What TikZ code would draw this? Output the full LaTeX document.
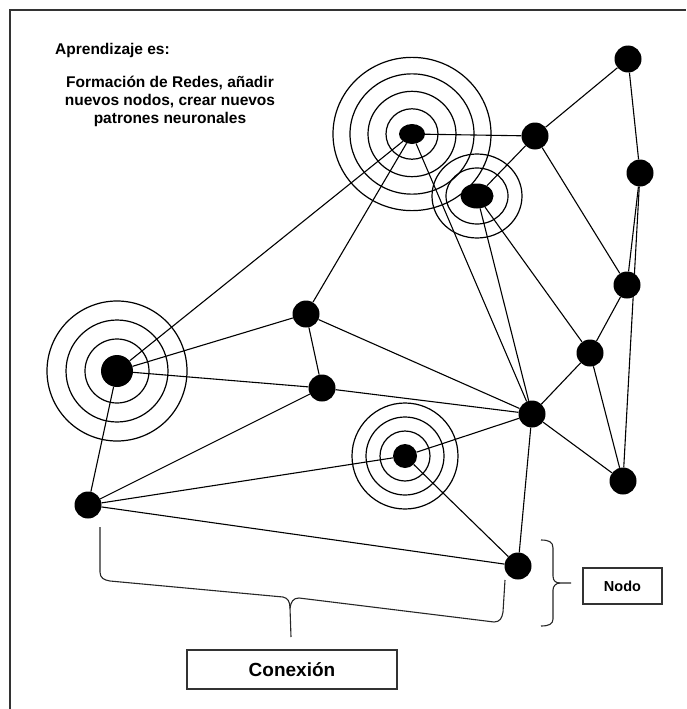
\documentclass[tikz,border=0pt]{standalone}
\usepackage{fontspec}
\setmainfont{Liberation Sans}
\usetikzlibrary{shapes.geometric}
\begin{document}
\begin{tikzpicture}[x=1pt,y=-1pt,
  neuron/.style={circle,fill=black,inner sep=0pt,minimum size=27pt},
  oval/.style={ellipse,fill=black,inner sep=0pt},
  link/.style={line width=1.1pt,black},
  ring/.style={line width=1.2pt,black},
  frame/.style={line width=1.6pt,black!80},
  tag/.style={draw=black!80,line width=1.2pt,inner sep=0pt,font=\bfseries},
  brace/.style={line width=1.1pt,black!85,line join=round},
  note/.style={font=\bfseries\fontsize{15.5}{18}\selectfont,inner sep=0pt}]
\useasboundingbox (0,0) rectangle (686,709);

% outer frame (top and left edges)
\draw[frame] (9,10) -- (686,10);
\draw[frame] (10,10) -- (10,709);

% heading
\node[note,anchor=base west] (head) at (55,55) {Aprendizaje es:};
\node[note,anchor=base] (l1) at (170,87) {Formación de Redes, añadir};
\node[note,anchor=base] (l2) at (170,105) {nuevos nodos, crear nuevos};
\node[note,anchor=base] (l3) at (170,123) {patrones neuronales};

% neurons
\node[neuron] (A) at (628,59) {};
\node[neuron] (B) at (535,136) {};
\node[neuron] (C) at (640,173) {};
\node[oval,minimum width=26pt,minimum height=20pt] (D) at (412,134) {};
\node[oval,minimum width=33pt,minimum height=25pt] (E) at (477,196) {};
\node[neuron] (F) at (627,285) {};
\node[neuron] (G) at (306,314) {};
\node[neuron] (H) at (590,353) {};
\node[neuron,minimum size=32pt] (I) at (117,371) {};
\node[neuron] (J) at (322,388) {};
\node[neuron] (K) at (532,414) {};
\node[neuron,minimum size=24pt] (L) at (405,456) {};
\node[neuron] (M) at (623,481) {};
\node[neuron] (N) at (88,505) {};
\node[neuron] (O) at (518,566) {};

% concentric rings
\foreach \r in {26,44,62,79}
  \draw[ring] (D) ellipse[x radius=\r, y radius=0.97*\r];
\foreach \r/\s in {31/28,45/42}
  \draw[ring] (E) ellipse[x radius=\r, y radius=\s];
\foreach \r in {32,51,70}
  \draw[ring] (I) circle[radius=\r];
\foreach \r in {25,39,53}
  \draw[ring] (L) circle[radius=\r];

% connections
\foreach \u/\v in {A/B,A/C,C/F,C/M,B/D,B/E,B/F,D/I,D/G,D/K,E/K,E/H,
                   F/H,H/K,H/M,K/M,K/O,K/G,K/J,K/L,G/I,G/J,I/J,I/N,
                   N/J,N/L,N/O,L/O}
  \draw[link] (\u) -- (\v);

% labels
\node[tag,minimum width=79pt,minimum height=36pt,font=\bfseries\fontsize{14.5}{16}\selectfont] (nodo) at (622.5,586) {Nodo};
\node[tag,minimum width=210pt,minimum height=39pt,font=\bfseries\fontsize{19}{22}\selectfont] (conexion) at (292,669.5) {Conexión};

% brace marking a node
\draw[brace] (541,540) .. controls (549,540) and (553,542) .. (553,548) -- (553,576)
  .. controls (553,581) and (556,583) .. (560,583) -- (571,583);
\draw[brace] (560,583) .. controls (556,583) and (553,586) .. (553,590) -- (553,619)
  .. controls (553,624) and (549,626) .. (541,626);

% brace marking a connection
\draw[brace] (100,527) -- (100,572) .. controls (100,578) and (104,580) .. (110,581)
  -- (283,597) .. controls (288,598) and (290,602) .. (290,608) -- (291,637);
\draw[brace] (290,608) .. controls (291,602) and (293,598) .. (299,598)
  -- (494,622) .. controls (500,622) and (502,618) .. (503,612) -- (505,580);
\end{tikzpicture}
\end{document}
